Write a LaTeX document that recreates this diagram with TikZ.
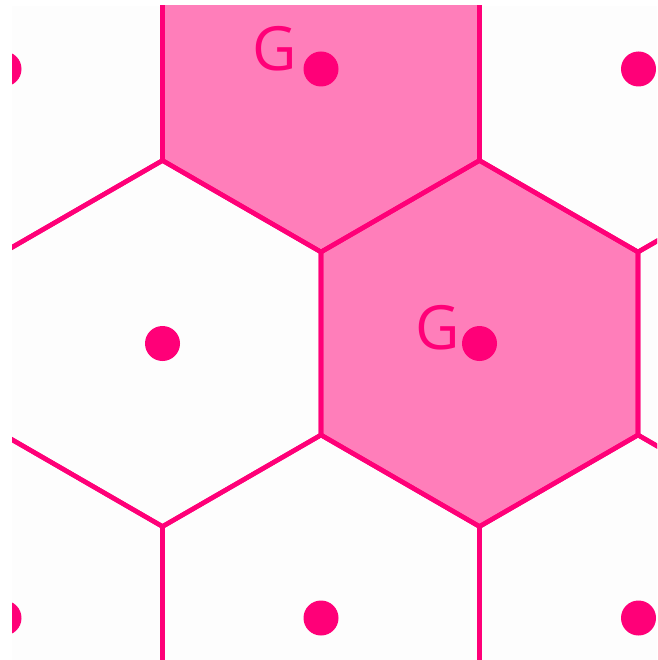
\documentclass[tikz,border=0pt]{standalone}
\usepackage{fontspec}
\newfontfamily\gfont{Open Sans}
\definecolor{hexline}{RGB}{255,0,120}
\definecolor{hexfill}{RGB}{255,126,186}
\definecolor{bgc}{RGB}{253,253,253}
\tikzset{
  hexedge/.style={draw=hexline, line width=4.6pt, line join=miter},
  hexshade/.style={fill=hexfill},
  dot/.style={circle, fill=hexline, inner sep=0pt, minimum size=35pt},
  glabel/.style={text=hexline, inner sep=0pt, font=\gfont\fontsize{61}{61}\selectfont},
}
\def\hexpath#1#2{(#1,#2) +(90:183) -- +(30:183) -- +(-30:183) -- +(-90:183) -- +(-150:183) -- +(150:183) -- cycle}
\begin{document}
\begin{tikzpicture}[x=1pt,y=-1pt]
\useasboundingbox (0,0) rectangle (657,660);
\fill[white] (0,0) rectangle (657,660);
\begin{scope}
\clip (12,6) rectangle (657,660);
\fill[bgc] (12,6) rectangle (657,660);
\fill[hexshade] \hexpath{321}{69};
\fill[hexshade] \hexpath{479.5}{343.5};
\foreach \cx/\cy in {162.5/-205.5, 479.5/-205.5, 4/69, 321/69, 638/69, -154.5/343.5, 162.5/343.5, 479.5/343.5, 796.5/343.5, 4/618, 321/618, 638/618, 162.5/892.5, 479.5/892.5}
  \draw[hexedge] \hexpath{\cx}{\cy};
\node[dot] (d1) at (4,69) {};
\node[dot] (d2) at (321,69) {};
\node[dot] (d3) at (638.5,69) {};
\node[dot] (d4) at (162.5,343.5) {};
\node[dot] (d5) at (479.5,343.5) {};
\node[dot] (d6) at (4,618) {};
\node[dot] (d7) at (321,618) {};
\node[dot] (d8) at (638.5,618) {};
\end{scope}
\node[glabel] (g1) at (275,49) {G};
\node[glabel] (g2) at (438,327.5) {G};
\end{tikzpicture}
\end{document}
